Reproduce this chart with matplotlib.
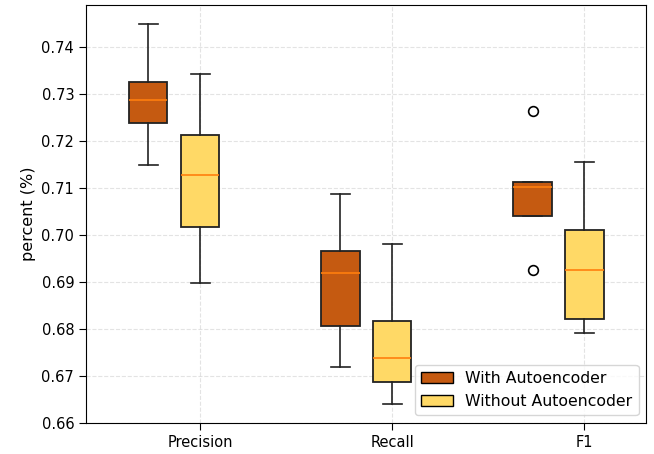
import numpy as np
import matplotlib.pyplot as plt
from matplotlib.patches import Patch

categories = ["Precision", "Recall", "F1"]

# five-number summaries per metric: whisker low, q1, median, q3, whisker high
with_ae_low = [0.7148, 0.6719, 0.7040]
with_ae_q1 = [0.7238, 0.6807, 0.7040]
with_ae_med = [0.7288, 0.6920, 0.7101]
with_ae_q3 = [0.7325, 0.6967, 0.7112]
with_ae_high = [0.7449, 0.7088, 0.7112]
with_ae_fliers = [[], [], [0.7263, 0.6926]]

without_ae_low = [0.6898, 0.6640, 0.6792]
without_ae_q1 = [0.7016, 0.6687, 0.6821]
without_ae_med = [0.7127, 0.6738, 0.6926]
without_ae_q3 = [0.7213, 0.6817, 0.7011]
without_ae_high = [0.7342, 0.6980, 0.7155]
without_ae_fliers = [[], [], []]


def make_stats(low, q1, med, q3, high, fliers):
    return [dict(whislo=a, q1=b, med=c, q3=d, whishi=e, fliers=f)
            for a, b, c, d, e, f in zip(low, q1, med, q3, high, fliers)]


stats_with = make_stats(with_ae_low, with_ae_q1, with_ae_med, with_ae_q3,
                        with_ae_high, with_ae_fliers)
stats_without = make_stats(without_ae_low, without_ae_q1, without_ae_med,
                           without_ae_q3, without_ae_high, without_ae_fliers)

color_with = "#C55A11"
color_without = "#FFD966"

plt.rcParams["font.size"] = 11
fig = plt.figure(figsize=(6.54, 4.54), dpi=100)
ax = fig.add_axes([0.1315, 0.068, 0.857, 0.921])

x = np.arange(len(categories))
common = dict(widths=0.2, patch_artist=True, manage_ticks=False,
              boxprops=dict(linewidth=1.3),
              medianprops=dict(color="#ff7f0e", linewidth=1.2),
              whiskerprops=dict(color="#222222", linewidth=1.2),
              capprops=dict(color="#222222", linewidth=1.2),
              flierprops=dict(markeredgewidth=1.2, markersize=7))

b1 = ax.bxp(stats_with, positions=x - 0.27, **common)
b2 = ax.bxp(stats_without, positions=x, **common)

for box in b1["boxes"]:
    box.set_facecolor(color_with)
    box.set_edgecolor("#222222")
for box in b2["boxes"]:
    box.set_facecolor(color_without)
    box.set_edgecolor("#222222")

ax.set_xticks(x)
ax.set_xticklabels(categories)
ax.set_xlim(-0.594, 2.323)
ax.set_ylim(0.66, 0.7489)
ax.set_yticks(np.arange(0.66, 0.741, 0.01))
ax.tick_params(labelsize=10.5, length=5)
ax.set_ylabel("percent (%)", fontsize=11.5)
ax.grid(True, linestyle="--", alpha=0.35)
ax.set_axisbelow(True)

handles = [Patch(facecolor=color_with, edgecolor="black", label="With Autoencoder"),
           Patch(facecolor=color_without, edgecolor="black", label="Without Autoencoder")]
ax.legend(handles=handles, loc="lower right", fontsize=11.3)

fig.savefig("out.png", dpi=100)
